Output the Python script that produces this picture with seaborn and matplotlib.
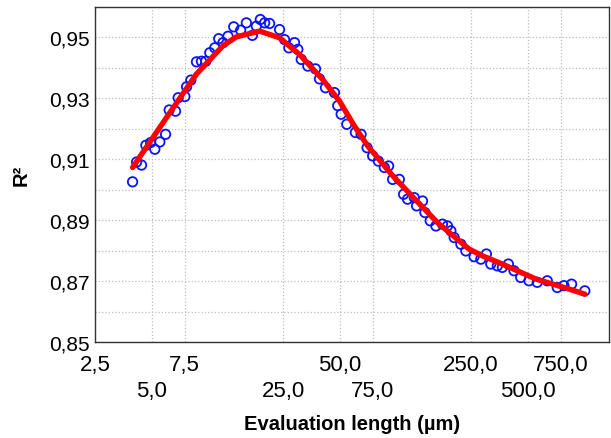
import numpy as np
import pandas as pd
import matplotlib
matplotlib.use("Agg")
import matplotlib.pyplot as plt
import matplotlib.ticker as mticker
import seaborn as sns

# measured points (evaluation length in um, R^2)
eval_len = [3.96, 4.16, 4.42, 4.66, 4.94, 5.20, 5.53, 5.93, 6.20, 6.70,
            6.92, 7.51, 7.67, 8.08, 8.66, 9.20, 9.70, 10.19, 10.83, 11.37,
            11.98, 12.74, 13.66, 14.87, 15.95, 17.17, 18.02, 18.92, 19.95, 21.20,
            23.95, 25.46, 26.84, 28.77, 29.95, 31.23, 33.85, 37.19, 39.05, 42.02,
            46.90, 48.83, 50.91, 54.53, 60.61, 64.98, 69.92, 74.88, 80.27, 86.38,
            91.02, 95.58, 103.8, 109.3, 114.8, 124.6, 128.2, 137.9, 142.0, 151.5,
            162.4, 176.0, 187.1, 195.1, 203.1, 220.5, 234.3, 259.2, 281.5, 301.4,
            318.0, 344.6, 366.4, 394.3, 422.6, 458.7, 507.8, 561.9, 635.2, 717.5,
            778.7, 855.3, 1006.0]
r2 = [0.9026, 0.9091, 0.9081, 0.9146, 0.9155, 0.9133, 0.9157, 0.9182, 0.9262, 0.9258,
      0.9302, 0.9306, 0.9338, 0.9360, 0.9420, 0.9422, 0.9422, 0.9450, 0.9466, 0.9496,
      0.9483, 0.9504, 0.9535, 0.9524, 0.9548, 0.9507, 0.9537, 0.9559, 0.9548, 0.9546,
      0.9526, 0.9493, 0.9466, 0.9483, 0.9461, 0.9428, 0.9406, 0.9397, 0.9364, 0.9335,
      0.9319, 0.9276, 0.9248, 0.9215, 0.9188, 0.9182, 0.9138, 0.9111, 0.9094, 0.9073,
      0.9078, 0.9034, 0.9034, 0.8985, 0.8969, 0.8974, 0.8947, 0.8963, 0.8925, 0.8898,
      0.8881, 0.8887, 0.8881, 0.8865, 0.8843, 0.8821, 0.8799, 0.8780, 0.8772, 0.8789,
      0.8756, 0.8750, 0.8745, 0.8756, 0.8734, 0.8712, 0.8701, 0.8696, 0.8701, 0.8679,
      0.8685, 0.8690, 0.8668]

# fitted curve
fit_len = [3.96, 6.20, 8.66, 11.98, 14.11, 18.76, 23.95, 30.6, 40.6, 49.9,
           59.9, 70.4, 97.6, 165.6, 244.0, 287.0, 366.0, 551.0, 828.0, 1006.0]
fit_r2 = [0.9073, 0.9250, 0.9380, 0.9473, 0.9502, 0.9521, 0.9499, 0.9444, 0.9362, 0.9291,
          0.9209, 0.9144, 0.9040, 0.8892, 0.8805, 0.8783, 0.8756, 0.8707, 0.8674, 0.8657]

# tick labels: two staggered rows
x_ticks_top = [2.5, 7.5, 50, 250, 750]
x_labels_top = ["2,5", "7,5", "50,0", "250,0", "750,0"]
x_ticks_low = [5, 25, 75, 500]
x_labels_low = ["5,0", "25,0", "75,0", "500,0"]

sns.set_style("white")
plt.rcParams['font.family'] = ['Liberation Sans', 'DejaVu Sans']
plt.rcParams['text.color'] = 'black'
plt.rcParams['axes.labelcolor'] = 'black'
plt.rcParams['xtick.labelcolor'] = 'black'
plt.rcParams['ytick.labelcolor'] = 'black'

df = pd.DataFrame({'len': eval_len, 'r2': r2})
fit = pd.DataFrame({'len': fit_len, 'r2': fit_r2})

fig = plt.figure(figsize=(6.11, 4.39), dpi=100)
ax = fig.add_axes([0.1555, 0.2187, 0.841, 0.763])

sns.scatterplot(data=df, x='len', y='r2', ax=ax, marker='o', s=46,
                fc='none', ec='#0a14ff', linewidth=1.3, zorder=3)
sns.lineplot(data=fit, x='len', y='r2', ax=ax, color='#ff0000', lw=3.9, zorder=4)

ax.set_xscale('log')
ax.set_xlim(2.5, 1350)
ax.set_ylim(0.85, 0.96)

all_ticks = sorted(x_ticks_top + x_ticks_low)
ax.set_xticks(all_ticks)
ax.set_xticklabels([x_labels_top[x_ticks_top.index(t)] if t in x_ticks_top else ''
                    for t in all_ticks], fontsize=16)
ax.xaxis.set_minor_locator(mticker.LogLocator(base=10, subs=np.arange(1, 10) * 0.25, numticks=50))
ax.xaxis.set_minor_formatter(mticker.NullFormatter())

ax.yaxis.set_major_locator(mticker.MultipleLocator(0.01))
ax.yaxis.set_minor_locator(mticker.MultipleLocator(0.0025))
ax.yaxis.set_major_formatter(mticker.FuncFormatter(
    lambda v, p: ("%.2f" % v).replace('.', ',') if round(v * 100) % 2 == 1 else ''))
ax.tick_params(axis='y', labelsize=15)

ax.tick_params(which='major', direction='in', length=4, width=0.8, color='#444444', pad=4)
ax.tick_params(which='minor', direction='in', length=2, width=0.6, color='#444444')
ax.tick_params(axis='x', which='major', length=3, pad=8.5)

# second row of x tick labels
sec = ax.secondary_xaxis('bottom')
sec.set_xticks(x_ticks_low)
sec.set_xticklabels(x_labels_low, fontsize=16)
sec.xaxis.set_minor_locator(mticker.NullLocator())
sec.tick_params(axis='x', length=0, pad=27.5)
sec.spines['bottom'].set_visible(False)

ax.grid(True, which='major', color='#bdbdbd', linestyle=':', linewidth=0.9)
for sp in ax.spines.values():
    sp.set_color('#333333')
    sp.set_linewidth(1.0)

ax.set_xlabel('')
sec.set_xlabel('Evaluation length (µm)', fontsize=14.5, fontweight='bold', labelpad=9)
ax.set_ylabel('R²', fontsize=14.5, fontweight='bold', labelpad=13)

fig.savefig('out.png', dpi=100)
